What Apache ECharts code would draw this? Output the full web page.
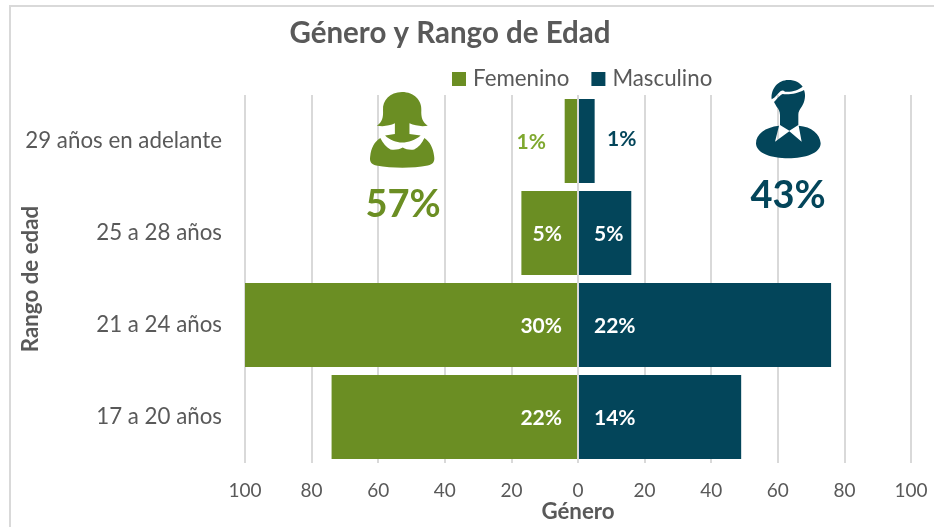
<!DOCTYPE html>
<html><head><meta charset="utf-8">
<style>html,body{margin:0;padding:0;background:#fff}#c{width:934px;height:527px}</style>
<script src="https://cdn.jsdelivr.net/npm/echarts@6/dist/echarts.min.js"></script>
</head><body><div id="c"></div>
<script>
const categories = ['17 a 20 años','21 a 24 años','25 a 28 años','29 años en adelante'];
const femenino = [74,100,17,4];
const masculino = [49,76,16,5];
const femeninoPct = ['22%','30%','5%','1%'];
const masculinoPct = ['14%','22%','5%','1%'];
const GREEN='#6B8E23', NAVY='#03455A', FONT='Lato', GREY='#595959';
const femalePaths = [
 'M186 96C150 96 128 122 130 150C131 172 128 186 112 197C130 200 150 198 165 190L165 222L136 226C150 240 170 247 186 247C205 247 225 240 241 226L208 222L208 190C225 198 245 200 262 197C246 186 242 172 243 150C245 122 222 96 186 96Z',
 'M122 234C105 245 95 262 92 290C90 305 95 312 110 316C160 325 215 325 262 316C278 312 283 305 281 290C278 262 268 245 252 234C245 250 235 262 222 268C210 270 198 268 188 262C178 268 165 270 152 268C140 262 130 250 122 234Z'
];
const malePaths = [
 'M125 118C122 85 145 60 175 60C195 60 210 68 218 80C205 90 185 97 165 95C155 84 145 100 140 106C135 112 130 115 125 118Z',
 'M132 126C140 118 150 105 158 102C175 105 205 100 222 90C228 105 225 125 215 140C208 150 205 155 205 165L205 195L178 212L150 195L150 165C150 155 145 145 140 140Z',
 'M147 197L135 245L178 214L215 245L206 197C245 200 270 222 272 250C272 280 225 295 175 295C125 295 78 280 78 250C78 222 105 202 147 197Z'
];
function icon(paths, ox, oy, bbox, color){
  return {type:'path', silent:true,
    shape:{pathData:paths.join(' '), x:ox+bbox[0]/3, y:oy+bbox[1]/3, width:(bbox[2]-bbox[0])/3, height:(bbox[3]-bbox[1])/3, layout:'cover'},
    style:{fill:color}};
}
const chart = echarts.init(document.getElementById('c'), null, {renderer:'canvas'});
chart.setOption({
  animation:false, backgroundColor:'#fff',
  title:{text:'Género y Rango de Edad', left:445, top:13, textAlign:'center',
    textStyle:{fontFamily:FONT,fontSize:29.5,fontWeight:'bold',color:GREY}},
  legend:{left:447, top:63, itemWidth:14, itemHeight:14, itemGap:22, icon:'rect',
    data:['Femenino','Masculino'], textStyle:{fontFamily:FONT,fontSize:22.3,color:GREY,padding:[0,0,0,2]}},
  grid:{left:245,right:23,top:95,bottom:64,outerBoundsMode:'none'},
  xAxis:{type:'value',min:-100,max:100,interval:20,
    name:'Género',nameLocation:'middle',nameGap:38,nameMoveOverlap:false,
    nameTextStyle:{fontFamily:FONT,fontSize:22.3,fontWeight:'bold',color:GREY},
    axisLine:{show:false},axisTick:{show:false},
    axisLabel:{fontFamily:FONT,fontSize:19,color:GREY,margin:18,formatter:v=>String(Math.abs(v))},
    splitLine:{show:true,lineStyle:{color:'#D9D9D9',width:2}}},
  yAxis:{type:'category',data:categories,
    name:'Rango de edad',nameLocation:'middle',nameGap:203,nameRotate:90,nameMoveOverlap:false,
    nameTextStyle:{fontFamily:FONT,fontSize:22.3,fontWeight:'bold',color:GREY},
    axisLine:{show:false,onZero:false},axisTick:{show:false},
    axisLabel:{fontFamily:FONT,fontSize:22.3,color:GREY,margin:23}},
  series:[
    {name:'Femenino',type:'bar',stack:'g',barWidth:84,itemStyle:{color:GREEN},
     data:femenino.map((v,i)=>({value:-v,label:{
        show:true,position:'insideRight',distance:i===3?32:16,offset:[0,1],formatter:femeninoPct[i],
        fontFamily:FONT,fontSize:21,fontWeight:'bold',
        color:i===3?'#7FA82F':'#fff',textBorderWidth:0}})),
     markLine:{silent:true,symbol:'none',animation:false,label:{show:false},
        lineStyle:{color:'#D9D9D9',width:2,type:'solid'},data:[{xAxis:0}]}},
    {name:'Masculino',type:'bar',stack:'g',barWidth:84,itemStyle:{color:NAVY},
     data:masculino.map((v,i)=>({value:v,label:{
        show:true,position:'insideLeft',distance:i===3?29:16,offset:[0,i===3?-2:1],formatter:masculinoPct[i],
        fontFamily:FONT,fontSize:21,fontWeight:'bold',
        color:i===3?NAVY:'#fff',textBorderWidth:0}}))},
    {type:'custom',coordinateSystem:'none',silent:true,z:10,clip:false,data:[0],
     renderItem:function(){
       return {type:'group',children:[
         icon(femalePaths,340,60,[90,96,283,323],GREEN),
         icon(malePaths,730,60,[78,60,272,295],NAVY)
       ]};
     }}
  ],
  graphic:[
    {type:'rect',z:-1,silent:true,shape:{x:10,y:6,width:1000,height:600},style:{fill:'none',stroke:'#D9D9D9',lineWidth:2}},
    {type:'text',z:10,silent:true,style:{text:'57%',x:403,y:205,align:'center',verticalAlign:'middle',
      font:'bold 38px Lato',fill:GREEN}},
    {type:'text',z:10,silent:true,style:{text:'43%',x:788,y:196,align:'center',verticalAlign:'middle',
      font:'bold 38px Lato',fill:NAVY}}
  ]
});
</script></body></html>
